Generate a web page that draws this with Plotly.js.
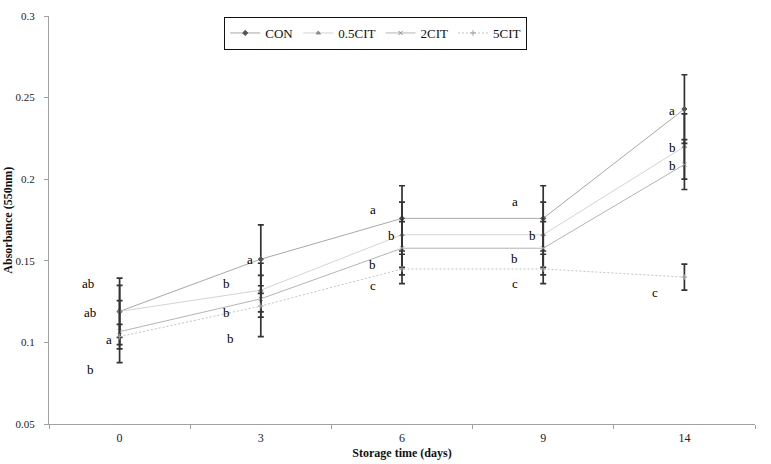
<!DOCTYPE html>
<html>
<head>
<meta charset="utf-8">
<script src="https://cdn.plot.ly/plotly-3.0.1.min.js"></script>
<style>html,body{margin:0;padding:0;background:#fff}#chart{width:771px;height:464px}</style>
</head>
<body>
<div id="chart"></div>
<script>
// Categories (storage days)
const days = ['0', '3', '6', '9', '14'];
const seriesNames = ['CON', '0.5CIT', '2CIT', '5CIT'];

// Absorbance means
const conVals   = [0.119, 0.151, 0.176, 0.176, 0.243];
const cit05Vals = [0.119, 0.132, 0.166, 0.166, 0.220];
const cit2Vals  = [0.1066, 0.1267, 0.1577, 0.1577, 0.209];
const cit5Vals  = [0.1035, 0.1223, 0.145, 0.145, 0.140];

// Error (± SD)
const conErr   = [0.0204, 0.021, 0.020, 0.020, 0.021];
const cit05Err = [0.016, 0.0165, 0.020, 0.020, 0.020];
const cit2Err  = [0.019, 0.008, 0.0163, 0.0163, 0.0153];
const cit5Err  = [0.0075, 0.0188, 0.009, 0.009, 0.008];

// Significance letters and their heights
const conLetters   = ['ab', 'a', 'a', 'a', 'a'];
const cit05Letters = ['ab', 'b', 'b', 'b', 'b'];
const cit2Letters  = ['a', 'b', 'b', 'b', 'b'];
const cit5Letters  = ['b', 'b', 'c', 'c', 'c'];
const conLetterY   = [0.1362, 0.1505, 0.1816, 0.1862, 0.2424];
const cit05LetterY = [0.1182, 0.1358, 0.1654, 0.1652, 0.2196];
const cit2LetterY  = [0.102, 0.1182, 0.148, 0.1515, 0.2081];
const cit5LetterY  = [0.0831, 0.1025, 0.1346, 0.1362, 0.1307];

// layout: horizontal pixel offset of each letter left of the bar
const conShift   = [-32, -11, -29, -28, -12];
const cit05Shift = [-30, -34, -11, -11, -12];
const cit2Shift  = [-11, -34, -30, -29, -12];
const cit5Shift  = [-29, -30, -29, -28, -29];

const FONT = 'Times New Roman, Liberation Serif, serif';
const errStyle = {color: '#333333', thickness: 1.7, width: 3};

function mk(name, y, err, lineColor, dash, symbol, mColor, mSize) {
  return {
    type: 'scatter', mode: 'lines+markers', name: name,
    x: days, y: y,
    error_y: Object.assign({type: 'data', array: err, visible: true}, errStyle),
    line: {color: lineColor, width: 1, dash: dash},
    marker: {symbol: symbol, color: mColor, size: mSize, line: {color: mColor, width: 1}}
  };
}

const traces = [
  mk(seriesNames[0], conVals, conErr, '#a8a8a8', 'solid', 'diamond', '#555555', 4),
  mk(seriesNames[1], cit05Vals, cit05Err, '#d4d4d4', 'solid', 'triangle-up', '#8a8a8a', 4),
  mk(seriesNames[2], cit2Vals, cit2Err, '#b4b4b4', 'solid', 'x-thin-open', '#8a8a8a', 4),
  mk(seriesNames[3], cit5Vals, cit5Err, '#c4c4c4', '2px,2px', 'cross-thin-open', '#9a9a9a', 4)
];

const annotations = [];
const letterSets = [
  [conLetters, conLetterY, conShift],
  [cit05Letters, cit05LetterY, cit05Shift],
  [cit2Letters, cit2LetterY, cit2Shift],
  [cit5Letters, cit5LetterY, cit5Shift]
];
letterSets.forEach(([lt, ly, ls]) => {
  lt.forEach((t, i) => {
    annotations.push({
      x: i, y: ly[i], xref: 'x', yref: 'y', text: t, showarrow: false,
      xshift: ls[i], font: {family: FONT, size: 13, color: '#000000'}
    });
  });
});

// y-axis title drawn as rotated annotation
annotations.push({
  xref: 'paper', yref: 'paper', x: -0.0585, y: 0.5, xanchor: 'center', yanchor: 'middle',
  text: '<b>Absorbance (550nm)</b>', textangle: -90, showarrow: false,
  font: {family: FONT, size: 12, color: '#111'}
});

const layout = {
  width: 771, height: 464,
  margin: {l: 49, r: 16, t: 16, b: 40},
  paper_bgcolor: '#fff', plot_bgcolor: '#fff',
  font: {family: FONT, size: 12, color: '#222'},
  showlegend: true,
  legend: {
    orientation: 'h', x: 0.4625, xanchor: 'center', y: 0.998, yanchor: 'top',
    bordercolor: '#111', borderwidth: 1.2, bgcolor: '#fff',
    font: {family: FONT, size: 13, color: '#111'},
    itemwidth: 30, tracegroupgap: 0
  },
  xaxis: {
    type: 'category', range: [-0.5, 4.5], tickson: 'boundaries',
    ticks: 'outside', ticklen: 4, tickcolor: '#a0a0a0',
    showline: true, linecolor: '#a0a0a0', linewidth: 1,
    showgrid: false, zeroline: false, ticklabelstandoff: 3,
    tickfont: {family: FONT, size: 12, color: '#222'},
    title: {text: '<b>Storage time (days)</b>', font: {family: FONT, size: 12, color: '#111'}, standoff: 4}
  },
  yaxis: {
    range: [0.05, 0.3], dtick: 0.05, tick0: 0.05,
    ticks: 'outside', ticklen: 4, tickcolor: '#a0a0a0',
    showline: true, linecolor: '#a0a0a0', linewidth: 1,
    showgrid: false, zeroline: false, ticklabelstandoff: 7,
    tickfont: {family: FONT, size: 11, color: '#222'}
  },
  annotations: annotations
};

Plotly.newPlot('chart', traces, layout, {displayModeBar: false, staticPlot: true});
</script>
</body>
</html>
